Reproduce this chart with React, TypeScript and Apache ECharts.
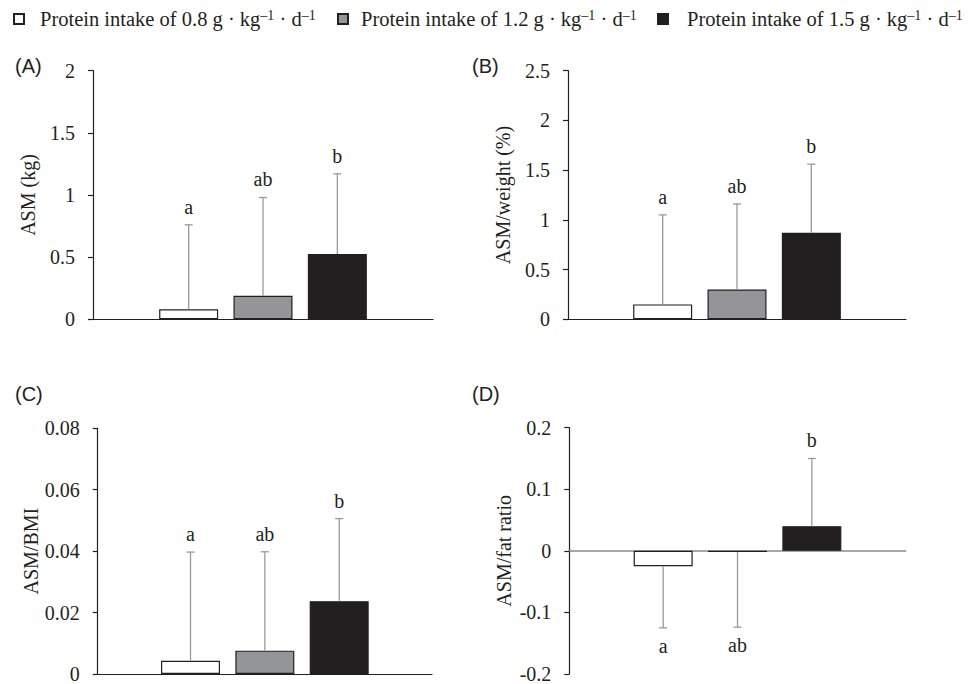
import React, { useEffect, useRef } from "react";
import * as echarts from "echarts";

// ---------- data ----------
const CATEGORIES = ["all"];
const DOSES = ["0.8", "1.2", "1.5"];
const SERIES_NAMES = DOSES.map((d) => `Protein intake of ${d} g·kg⁻¹·d⁻¹`);

const PANEL_LABELS = ["(A)", "(B)", "(C)", "(D)"];
const Y_TITLES = ["ASM (kg)", "ASM/weight (%)", "ASM/BMI", "ASM/fat ratio"];

// bar means
const meansA = [0.08, 0.19, 0.525];
const meansB = [0.15, 0.3, 0.87];
const meansC = [0.0043, 0.0076, 0.0237];
const meansD = [-0.025, -0.002, 0.04];

// end of the error bar (mean ± SD)
const errEndA = [0.76, 0.98, 1.17];
const errEndB = [1.05, 1.16, 1.56];
const errEndC = [0.0397, 0.0398, 0.0506];
const errEndD = [-0.125, -0.124, 0.15];

// significance letters
const lettersA = ["a", "ab", "b"];
const lettersB = ["a", "ab", "b"];
const lettersC = ["a", "ab", "b"];
const lettersD = ["a", "ab", "b"];

// y axis ranges [min, max, interval]
const yRangeA = [0, 2, 0.5];
const yRangeB = [0, 2.5, 0.5];
const yRangeC = [0, 0.08, 0.02];
const yRangeD = [-0.2, 0.2, 0.1];

const MEANS = [meansA, meansB, meansC, meansD];
const ERR_ENDS = [errEndA, errEndB, errEndC, errEndD];
const LETTERS = [lettersA, lettersB, lettersC, lettersD];
const Y_RANGES = [yRangeA, yRangeB, yRangeC, yRangeD];

// ---------- style / layout ----------
const SERIF = "Liberation Serif";
const SANS = "Liberation Sans";
const INK = "#231f20";
const ERR_COLOR = "#999999";
const BAR_FILLS = ["#ffffff", "#939598", "#231f20"];
const BAR_W = 59;
const BAR_GAP = 0.26;
const STEP = BAR_W * (1 + BAR_GAP);

const GRIDS = [
  { left: 93, top: 70.7, width: 340, height: 248.6 },
  { left: 568, top: 70.7, width: 338, height: 248.6 },
  { left: 97.7, top: 428.3, width: 334.3, height: 248 },
  { left: 569.3, top: 427.7, width: 336.4, height: 248 },
];
const LABEL_POS = [
  [15, 67],
  [472, 67],
  [15, 395],
  [472, 395],
];
const LEGEND_LEFT = [13, 337, 657];
const LEGEND_TEXT_PAD = [11, 8, 14];

function buildOption() {
  const xAxis: any[] = [];
  const yAxis: any[] = [];
  const series: any[] = [];

  GRIDS.forEach((_, p) => {
    const isD = p === 3;
    xAxis.push({
      type: "category",
      gridIndex: p,
      data: CATEGORIES,
      axisLabel: { show: false },
      axisTick: { show: false },
      axisLine: {
        onZero: true,
        lineStyle: { color: isD ? "#8a8a8a" : INK, width: isD ? 1.5 : 1.2 },
      },
      splitLine: { show: false },
    });
    const [min, max, interval] = Y_RANGES[p];
    yAxis.push({
      type: "value",
      gridIndex: p,
      min,
      max,
      interval,
      name: Y_TITLES[p],
      nameLocation: "middle",
      nameGap: 55,
      nameTextStyle: { fontFamily: SERIF, fontSize: 20, color: INK },
      axisLine: { show: true, onZero: false, lineStyle: { color: INK, width: 1.2 } },
      axisTick: { show: true, length: 5, lineStyle: { color: INK, width: 1.2 } },
      axisLabel: {
        fontFamily: SERIF,
        fontSize: 20,
        color: INK,
        margin: 18,
        formatter: (v: number) => `{n|${String(+v.toFixed(4))}}`,
        rich: { n: { fontFamily: SERIF, fontSize: 20, color: INK } },
      },
      splitLine: { show: false },
    });

    DOSES.forEach((_, i) => {
      series.push({
        type: "bar",
        name: SERIES_NAMES[i],
        xAxisIndex: p,
        yAxisIndex: p,
        barWidth: BAR_W,
        barGap: `${BAR_GAP * 100}%`,
        data: [MEANS[p][i]],
        itemStyle: { color: BAR_FILLS[i], borderColor: INK, borderWidth: 1.2 },
        z: 2,
      });
    });

    const letters = LETTERS[p];
    series.push({
      type: "custom",
      name: "err" + p,
      xAxisIndex: p,
      yAxisIndex: p,
      z: 3,
      clip: false,
      data: MEANS[p].map((m, i) => [CATEGORIES[0], m, ERR_ENDS[p][i], i]),
      encode: { x: 0, y: 1 },
      renderItem: (params: any, api: any) => {
        const i = api.value(3);
        const p0 = api.coord([0, api.value(1)]);
        const p1 = api.coord([0, api.value(2)]);
        const x = p0[0] + (i - 1) * STEP;
        const dir = p1[1] < p0[1] ? -1 : 1;
        const ls = { stroke: ERR_COLOR, lineWidth: 1.3 };
        return {
          type: "group",
          children: [
            { type: "line", shape: { x1: x, y1: p0[1], x2: x, y2: p1[1] }, style: ls },
            { type: "line", shape: { x1: x - 4, y1: p1[1], x2: x + 4, y2: p1[1] }, style: ls },
            {
              type: "text",
              x,
              y: p1[1] + dir * 18,
              style: {
                text: letters[params.dataIndex],
                fill: INK,
                fontFamily: SERIF,
                fontSize: 20,
                align: "center",
                verticalAlign: "middle",
              },
            },
          ],
        };
      },
    });
  });

  const legend = DOSES.map((d, i) => ({
    data: [SERIES_NAMES[i]],
    left: LEGEND_LEFT[i],
    top: 8,
    padding: 0,
    icon: "rect",
    itemWidth: 10,
    itemHeight: 10,
    selectedMode: false,
    formatter: () => `{t|Protein intake of ${d} g · kg}{s|–1}{t| · d}{s|–1}`,
    textStyle: {
      color: INK,
      fontFamily: SERIF,
      fontSize: 20.5,
      padding: [0, 0, 0, LEGEND_TEXT_PAD[i]],
      rich: {
        t: { fontFamily: SERIF, fontSize: 20.5, color: INK, lineHeight: 22 },
        s: { fontFamily: SERIF, fontSize: 14, color: INK, lineHeight: 14, verticalAlign: "top" },
      },
    },
  }));

  const graphic = PANEL_LABELS.map((t, p) => ({
    type: "text",
    left: LABEL_POS[p][0],
    top: LABEL_POS[p][1] - 11,
    style: { text: t, fill: INK, fontFamily: SANS, fontSize: 20 },
  }));

  return {
    animation: false,
    backgroundColor: "#ffffff",
    textStyle: { fontFamily: SERIF },
    grid: GRIDS.map((g) => ({ ...g, containLabel: false })),
    xAxis,
    yAxis,
    legend,
    graphic,
    series,
  };
}

export default function App() {
  const ref = useRef<HTMLDivElement>(null);
  useEffect(() => {
    if (!ref.current) return;
    const chart = echarts.init(ref.current, undefined, { renderer: "svg" });
    chart.setOption(buildOption());
    return () => chart.dispose();
  }, []);
  return (
    <div
      ref={ref}
      style={{ position: "fixed", left: 0, top: 0, width: 968, height: 684, background: "#fff" }}
    />
  );
}
